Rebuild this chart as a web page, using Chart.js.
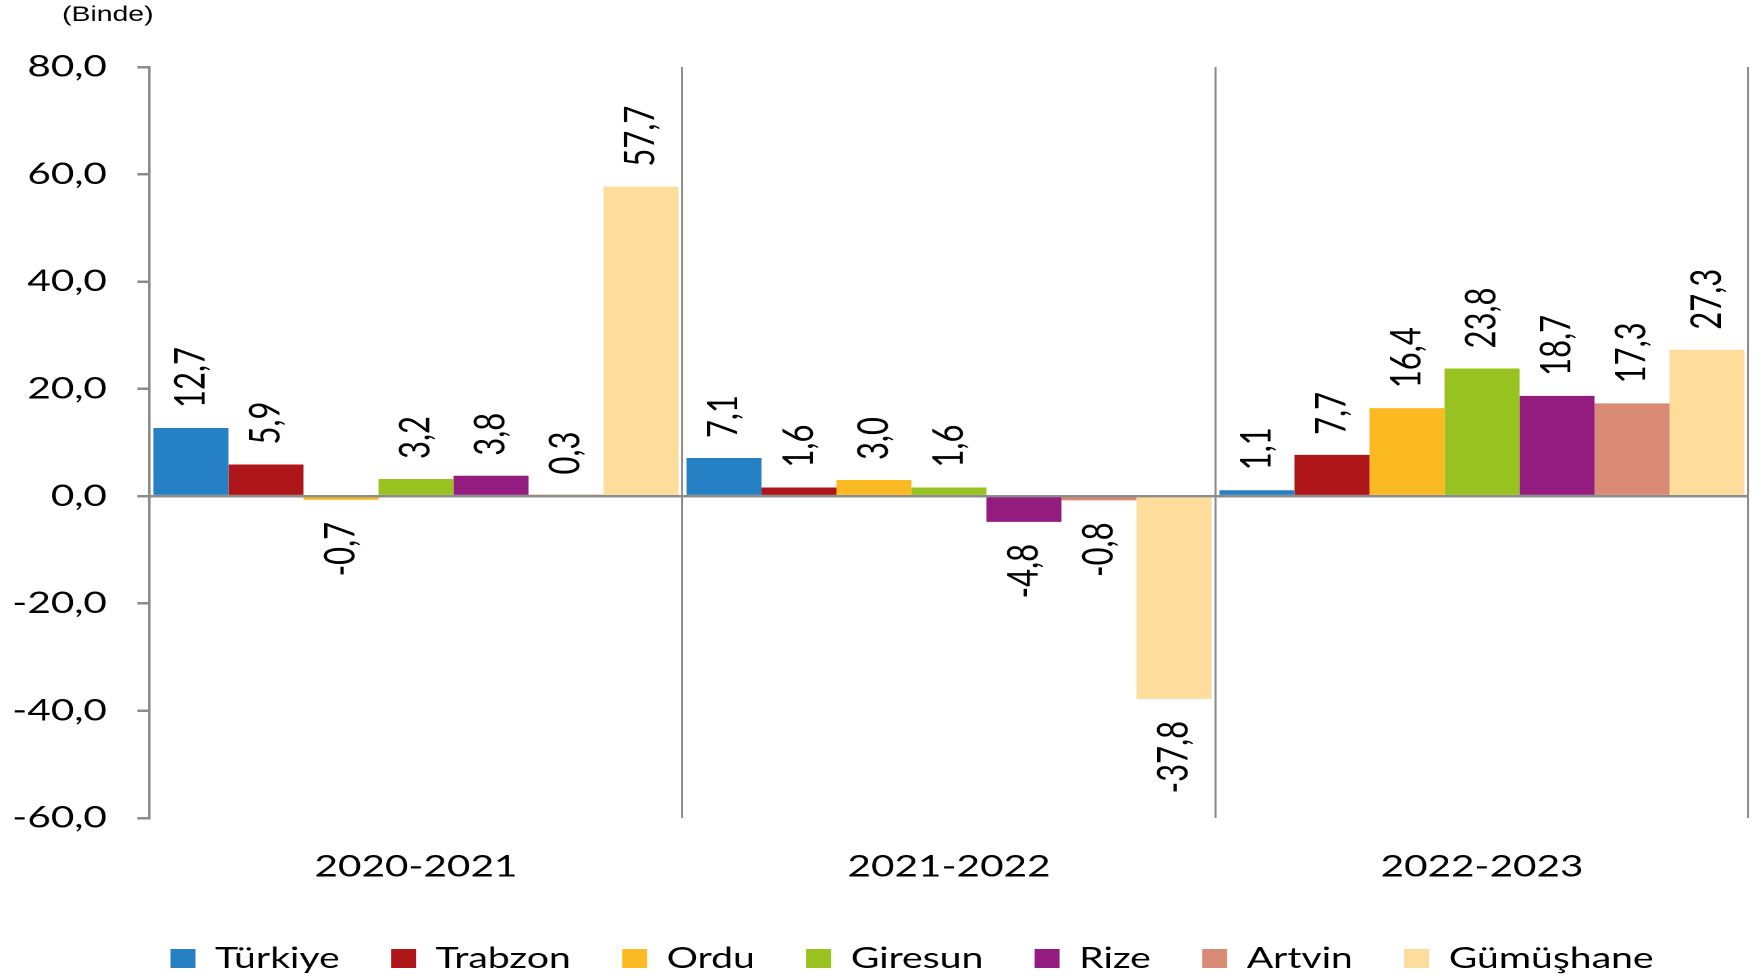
<!DOCTYPE html>
<html lang="tr">
<head>
<meta charset="utf-8">
<title>Binde değişim</title>
<script src="https://cdn.jsdelivr.net/npm/chart.js@4.4.1/dist/chart.umd.min.js"></script>
<style>
  html, body { margin: 0; padding: 0; background: #fff; overflow: hidden; }
  #chart { display: block; width: 1762px; height: 980px; }
</style>
</head>
<body>
<canvas id="chart" width="1305" height="980" style="width:1762px;height:980px"></canvas>
<script>
const categories = ['2020-2021', '2021-2022', '2022-2023'];
const seriesNames = ['Türkiye', 'Trabzon', 'Ordu', 'Giresun', 'Rize', 'Artvin', 'Gümüşhane'];
const seriesColors = ['#2680c4', '#af1619', '#fbba22', '#97c21f', '#951c7f', '#d98a74', '#fddc9c'];
const turkiye = [12.7, 7.1, 1.1];
const trabzon = [5.9, 1.6, 7.7];
const ordu = [-0.7, 3.0, 16.4];
const giresun = [3.2, 1.6, 23.8];
const rize = [3.8, -4.8, 18.7];
const artvin = [0.3, -0.8, 17.3];
const gumushane = [57.7, -37.8, 27.3];
const seriesValues = [turkiye, trabzon, ordu, giresun, rize, artvin, gumushane];
const yTicks = { min: -60, max: 80, step: 20 };
const unitText = '(Binde)';

const axisGray = '#8c8c8c';

function commaText(value) {
  return Number(value).toFixed(1).replace('.', ',');
}

// rotated value labels above positive bars, below negative ones
const barLabels = {
  id: 'barLabels',
  afterLayout(chart) {
    // legend sits a bit right of the canvas centre in the original
    chart.legend.left += 28;
    chart.legend.right += 28;
  },
  afterDatasetsDraw(chart) {
    const { ctx } = chart;
    ctx.save();
    ctx.fillStyle = '#000';
    ctx.font = '31px Lato';
    ctx.textBaseline = 'middle';
    chart.data.datasets.forEach((dataset, i) => {
      chart.getDatasetMeta(i).data.forEach((bar, j) => {
        const value = dataset.data[j];
        const up = value >= 0;
        ctx.save();
        ctx.translate(bar.x, up ? bar.y - 20 : bar.y + 22);
        ctx.rotate(-Math.PI / 2);
        ctx.textAlign = up ? 'left' : 'right';
        ctx.fillText(commaText(value), 0, 0);
        ctx.restore();
      });
    });
    ctx.font = '21px "Liberation Sans"';
    ctx.textAlign = 'left';
    ctx.fillText(unitText, 46, 15);
    ctx.restore();
  }
};

new Chart(document.getElementById('chart'), {
  type: 'bar',
  data: {
    labels: categories,
    datasets: seriesNames.map((name, i) => ({
      label: name,
      data: seriesValues[i],
      backgroundColor: seriesColors[i],
      borderWidth: 0,
      categoryPercentage: 0.985,
      barPercentage: 1
    }))
  },
  options: {
    responsive: false,
    animation: false,
    devicePixelRatio: 2,
    layout: { padding: { left: 0, right: 10, top: 67, bottom: -3 } },
    plugins: {
      legend: {
        position: 'bottom',
        labels: {
          color: '#000',
          font: { family: 'Lato', size: 29 },
          boxWidth: 18.5,
          boxHeight: 19,
          padding: 38
        }
      },
      tooltip: { enabled: false }
    },
    scales: {
      x: {
        afterFit(scale) { scale.height = 88; },
        border: { display: false },
        grid: { color: axisGray, lineWidth: 1.5, drawTicks: false },
        ticks: { color: '#000', font: { family: 'Lato', size: 30 }, padding: 31 }
      },
      y: {
        min: yTicks.min,
        max: yTicks.max,
        z: 1,
        afterFit(scale) { scale.width = 110.7; },
        border: { display: true, color: axisGray, width: 2 },
        grid: {
          color: (c) => (c.tick && c.tick.value === 0 ? axisGray : 'rgba(0,0,0,0)'),
          lineWidth: 2.5,
          tickColor: axisGray,
          tickWidth: 2.5,
          tickLength: 9
        },
        ticks: {
          stepSize: yTicks.step,
          color: '#000',
          font: { family: 'Lato', size: 30 },
          padding: 22.5,
          callback: (value) => commaText(value)
        }
      }
    }
  },
  plugins: [barLabels]
});
</script>
</body>
</html>
